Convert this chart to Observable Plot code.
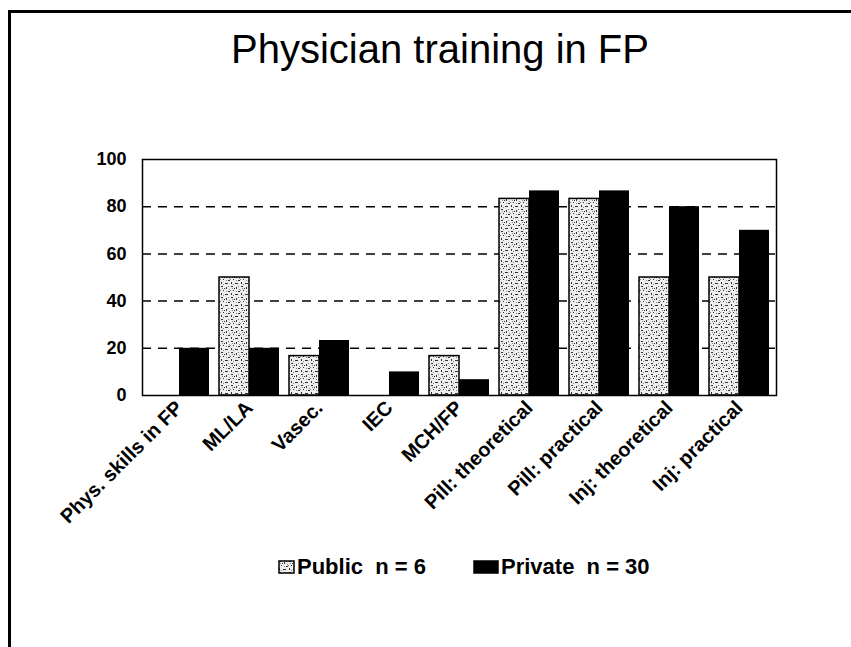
<!DOCTYPE html>
<html>
<head>
<meta charset="utf-8">
<script src="https://cdn.jsdelivr.net/npm/d3@7"></script>
<script src="https://cdn.jsdelivr.net/npm/@observablehq/plot@0.6"></script>
<style>
  html, body { margin: 0; padding: 0; background: #fff; }
  body { width: 851px; height: 647px; position: relative; overflow: hidden; font-family: "Liberation Sans", Arial, sans-serif; color: #000; }
  #page { position: absolute; left: 8px; top: 10px; right: -4px; bottom: -4px; border-left: 3px solid #000; border-top: 3px solid #000; }
  #title { position: absolute; left: 0; top: 29px; width: 880px; text-align: center; font-size: 40px; line-height: 40px; font-weight: normal; }
  #chart { position: absolute; left: 0; top: 120px; }
  #chart svg text { font-family: "Liberation Sans", Arial, sans-serif; font-weight: bold; font-size: 20px; fill: #000; }
  .leg { position: absolute; top: 556px; font-size: 22px; line-height: 22px; font-weight: bold; white-space: pre; display: flex; align-items: center; }
  .leg svg { margin-right: 2px; }
</style>
</head>
<body>
<div id="page"></div>
<div id="title">Physician training in FP</div>
<div id="chart"></div>
<div class="leg" id="leg1" style="left:278px"></div>
<div class="leg" id="leg2" style="left:473px"></div>
<script>
// ---- data ----
const categories = ["Phys. skills in FP", "ML/LA", "Vasec.", "IEC", "MCH/FP", "Pill: theoretical", "Pill: practical", "Inj: theoretical", "Inj: practical"];
const publicValues = [0, 50, 16.7, 0, 16.7, 83.3, 83.3, 50, 50];
const privateValues = [20, 20, 23.3, 10, 6.7, 86.7, 86.7, 80, 70];
const seriesLabels = ["Public  n = 6", "Private  n = 30"];
const yTicks = [0, 20, 40, 60, 80, 100];
const gridTicks = [20, 40, 60, 80];

const publicRows = categories.map((c, i) => ({category: c, value: publicValues[i]}));
const privateRows = categories.map((c, i) => ({category: c, value: privateValues[i]}));

function build(half) {
  return Plot.plot({
    width: 851,
    height: 430,
    marginLeft: 142,
    marginRight: 75,
    marginTop: 39,
    marginBottom: 155,
    style: {fontFamily: "'Liberation Sans', Arial, sans-serif", fontWeight: "bold", fontSize: "18px", color: "#000", background: "transparent", overflow: "visible"},
    x: {domain: categories, paddingInner: 0.15, paddingOuter: 0.075, label: null, tickSize: 0, tickPadding: 9, tickRotate: -45},
    y: {domain: [0, 100], ticks: yTicks, label: null, tickSize: 0, tickPadding: 16},
    marks: [
      Plot.ruleY(gridTicks, {stroke: "#000", strokeWidth: 1.5, strokeDasharray: "9,7"}),
      Plot.barY(publicRows, {x: "category", y: "value", fill: "url(#stipple)", stroke: "#000", strokeWidth: 1.5, insetRight: half}),
      Plot.barY(privateRows, {x: "category", y: "value", fill: "#000", insetLeft: half}),
      Plot.frame({stroke: "#000", strokeWidth: 1.5})
    ]
  });
}

const first = build(0);
const bw = first.scale("x").bandwidth;
const plot = build(bw / 2);

const defs = document.createElementNS("http://www.w3.org/2000/svg", "defs");
defs.innerHTML = `<pattern id="stipple" width="10" height="11" patternUnits="userSpaceOnUse">
  <rect width="10" height="11" fill="#eeeeee"/>
  <path d="M1 1h2v1h-2z M6 2h1v2h-1z M3 5h1v1h-1z M8 6h2v1h-2z M1 8h1v2h-1z M5 9h2v1h-2z M4 3h1v1h-1z M7 9h1v1h-1z" fill="#333"/>
  <path d="M2 3h1v1h-1z M8 1h1v1h-1z M0 5h1v1h-1z M6 6h1v1h-1z M3 10h1v1h-1z M9 4h1v1h-1z" fill="#888"/>
</pattern>`;
plot.prepend(defs);
document.getElementById("chart").appendChild(plot);

// y tick labels slightly smaller than the rotated x labels
plot.querySelectorAll('[aria-label^="y-axis"] text').forEach(t => t.style.fontSize = "18px");

// legend
function swatch(fill, w, stroke) {
  return `<svg width="${w + 2}" height="14" style="display:block"><rect x="1" y="1" width="${w}" height="12" fill="${fill}" stroke="${stroke}" stroke-width="1.5"/></svg>`;
}
document.getElementById("leg1").innerHTML = swatch("url(#stipple)", 15, "#000") + `<span>${seriesLabels[0]}</span>`;
document.getElementById("leg2").innerHTML = swatch("#000", 24, "#000") + `<span>${seriesLabels[1]}</span>`;
</script>
</body>
</html>
